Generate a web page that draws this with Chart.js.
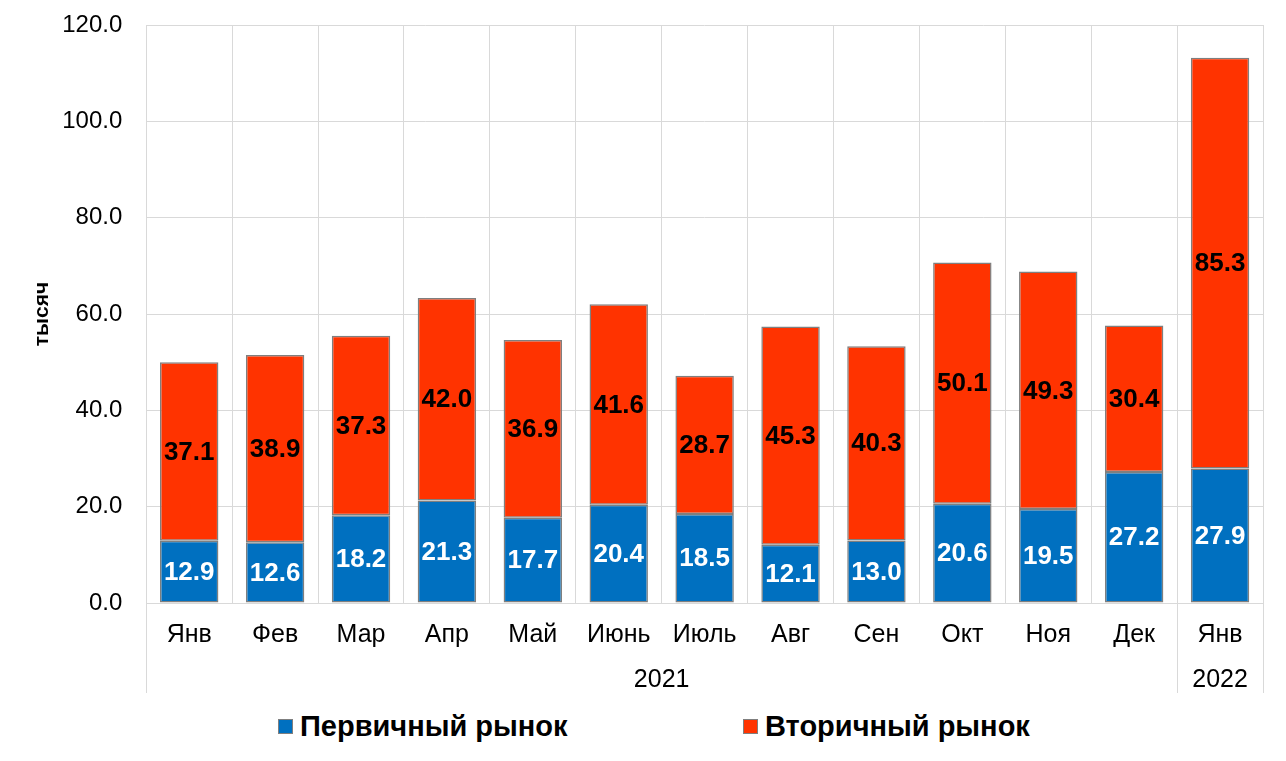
<!DOCTYPE html>
<html>
<head>
<meta charset="utf-8">
<script src="https://cdn.jsdelivr.net/npm/chart.js@4"></script>
<style>
  body { margin: 0; background: #fff; font-family: "Liberation Sans", Arial, sans-serif; }
  #wrap { position: relative; width: 1286px; height: 761px; }
  #legend { position: absolute; left: 0; top: 706px; width: 1286px; height: 40px; }
  .item { position: absolute; top: 0; font-weight: bold; font-size: 29px; line-height: 40px; color: #000; }
  .box { display: inline-block; width: 13px; height: 13px; border: 1px solid #7f7f7f; margin-right: 7px; vertical-align: 2px; }
</style>
</head>
<body>
<div id="wrap">
  <canvas id="chart" width="1286" height="700"></canvas>
  <div id="legend">
    <div class="item" style="left:278px"><span class="box" style="background:#0070C0"></span>Первичный рынок</div>
    <div class="item" style="left:743px"><span class="box" style="background:#FF3300"></span>Вторичный рынок</div>
  </div>
</div>
<script>
// month labels and year groups
const months = ['Янв', 'Фев', 'Мар', 'Апр', 'Май', 'Июнь', 'Июль', 'Авг', 'Сен', 'Окт', 'Ноя', 'Дек', 'Янв'];
const yearGroups = [
  { label: '2021', from: 0, to: 11 },
  { label: '2022', from: 12, to: 12 }
];

// values, thousands
const primaryMarket = [12.9, 12.6, 18.2, 21.3, 17.7, 20.4, 18.5, 12.1, 13.0, 20.6, 19.5, 27.2, 27.9];
const secondaryMarket = [37.1, 38.9, 37.3, 42.0, 36.9, 41.6, 28.7, 45.3, 40.3, 50.1, 49.3, 30.4, 85.3];

const seriesNames = ['Первичный рынок', 'Вторичный рынок'];
const yTicks = [0, 20, 40, 60, 80, 100, 120];

const FONT = '"Liberation Sans", Arial, sans-serif';
const GRID = '#d9d9d9';

// labels in the middle of each segment
const valueLabels = {
  id: 'valueLabels',
  afterDatasetsDraw(chart) {
    const ctx = chart.ctx;
    ctx.save();
    ctx.font = 'bold 26px ' + FONT;
    ctx.textAlign = 'center';
    ctx.textBaseline = 'middle';
    chart.data.datasets.forEach((ds, di) => {
      const meta = chart.getDatasetMeta(di);
      ctx.fillStyle = di === 0 ? '#ffffff' : '#000000';
      meta.data.forEach((bar, i) => {
        const mid = (bar.y + bar.base) / 2;
        ctx.fillText(ds.data[i].toFixed(1), bar.x, mid + 1);
      });
    });
    ctx.restore();
  }
};

// second row of the x axis: years, with separator lines
const yearAxis = {
  id: 'yearAxis',
  afterDraw(chart) {
    const ctx = chart.ctx;
    const x = chart.scales.x;
    const area = chart.chartArea;
    const half = (x.getPixelForValue(1) - x.getPixelForValue(0)) / 2;
    const bottom = x.bottom;
    ctx.save();
    ctx.strokeStyle = GRID;
    ctx.lineWidth = 1;
    ctx.font = '25px ' + FONT;
    ctx.fillStyle = '#000';
    ctx.textAlign = 'center';
    ctx.textBaseline = 'middle';
    yearGroups.forEach(g => {
      const l = x.getPixelForValue(g.from) - half;
      const r = x.getPixelForValue(g.to) + half;
      [l, r].forEach(px => {
        ctx.beginPath();
        ctx.moveTo(Math.round(px) + 0.5, area.bottom);
        ctx.lineTo(Math.round(px) + 0.5, bottom);
        ctx.stroke();
      });
      ctx.fillText(g.label, (l + r) / 2, area.bottom + 77);
    });
    ctx.restore();
  }
};

new Chart(document.getElementById('chart'), {
  type: 'bar',
  data: {
    labels: months,
    datasets: [
      {
        label: seriesNames[0],
        data: primaryMarket,
        backgroundColor: '#0070C0',
        borderColor: '#7f7f7f',
        borderWidth: 1.5,
        borderSkipped: false,
        barPercentage: 0.68,
        categoryPercentage: 1
      },
      {
        label: seriesNames[1],
        data: secondaryMarket,
        backgroundColor: '#FF3300',
        borderColor: '#7f7f7f',
        borderWidth: 1.5,
        borderSkipped: false,
        barPercentage: 0.68,
        categoryPercentage: 1
      }
    ]
  },
  options: {
    responsive: false,
    animation: false,
    devicePixelRatio: 1,
    layout: { padding: { top: 0, right: 23, bottom: 7, left: 30 } },
    plugins: {
      legend: { display: false },
      tooltip: { enabled: false }
    },
    scales: {
      x: {
        stacked: true,
        grid: { color: GRID, offset: true, drawTicks: false },
        border: { color: GRID },
        ticks: { color: '#000', font: { family: FONT, size: 25 }, padding: 17, maxRotation: 0, autoSkip: false },
        afterFit(scale) { scale.height = 90; }
      },
      y: {
        stacked: true,
        min: 0,
        max: 120,
        afterBuildTicks(scale) { scale.ticks = yTicks.map(v => ({ value: v })); },
        afterFit(scale) { scale.paddingTop = 25; },
        grid: { color: GRID, drawTicks: false },
        border: { display: false },
        ticks: {
          color: '#000',
          font: { family: FONT, size: 24 },
          padding: 24,
          callback: v => Number(v).toFixed(1)
        },
        title: {
          display: true,
          text: 'тысяч',
          color: '#000',
          font: { family: FONT, size: 21, weight: 'bold' },
          padding: { top: 0, bottom: -17 }
        }
      }
    }
  },
  plugins: [valueLabels, yearAxis]
});
</script>
</body>
</html>
